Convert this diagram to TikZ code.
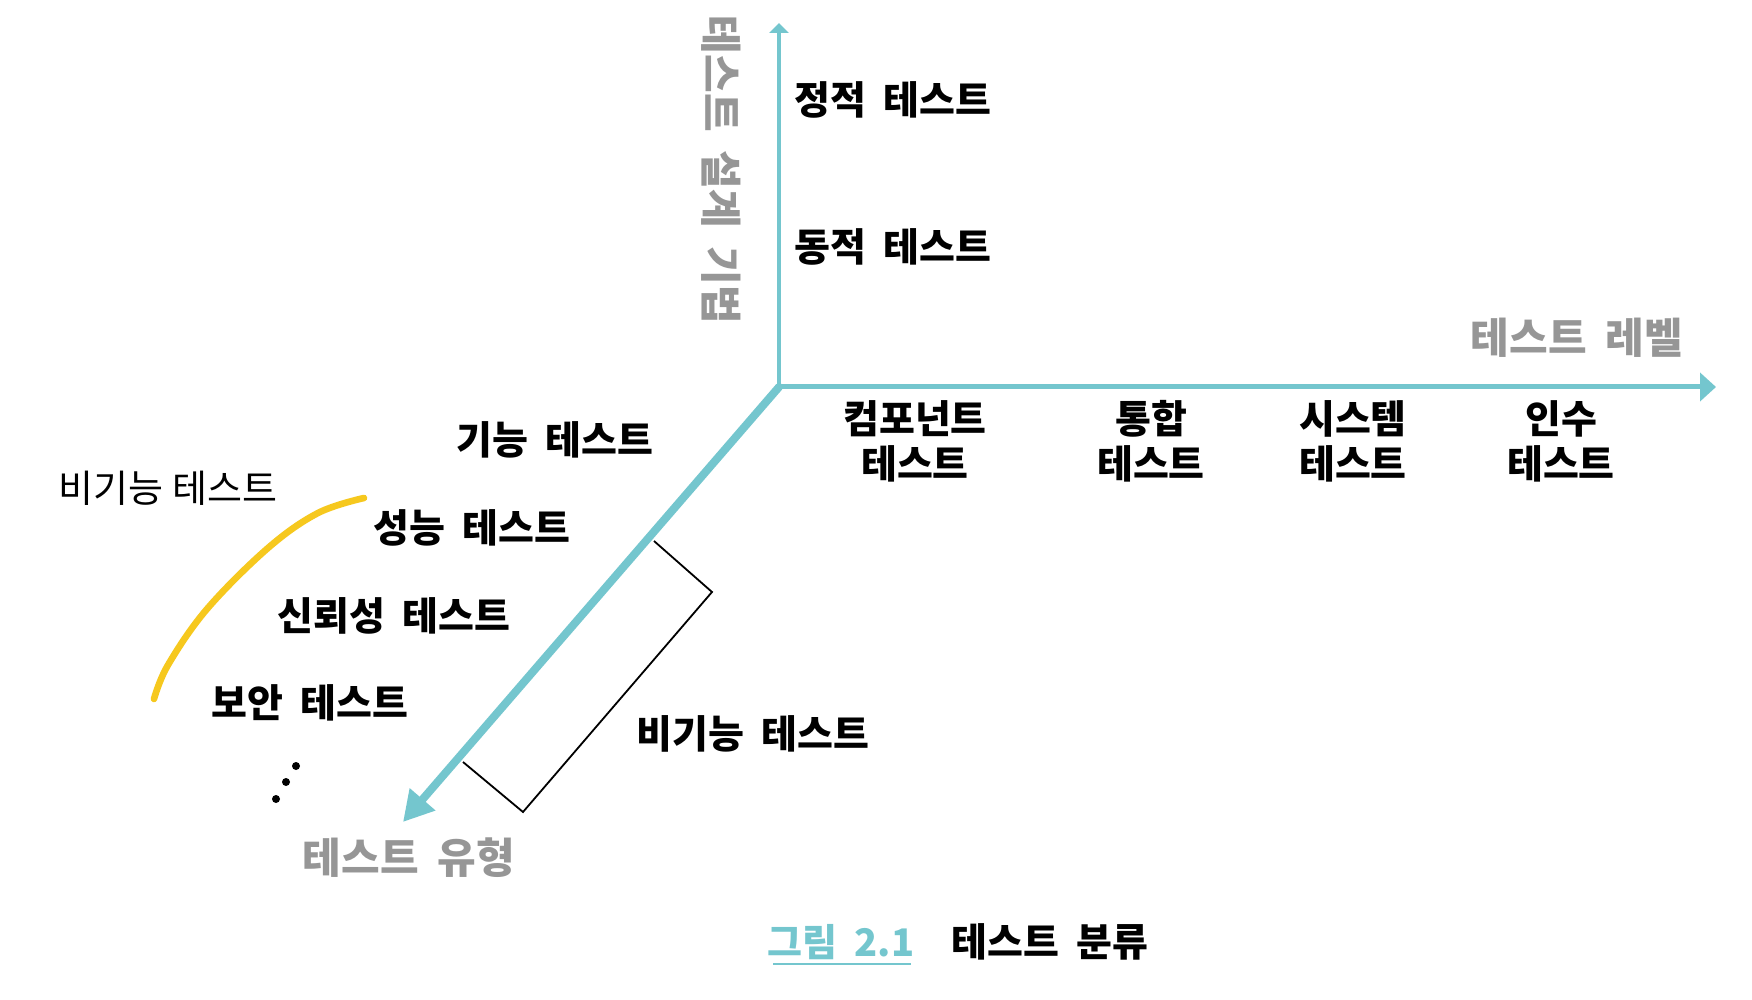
\documentclass[tikz,border=0pt]{standalone}
\usepackage{fontspec}
\setmainfont{Noto Sans CJK KR}
\usetikzlibrary{arrows.meta}
\definecolor{axisteal}{RGB}{116,198,206}
\definecolor{axisgray}{RGB}{150,150,150}
\definecolor{curveyellow}{RGB}{246,200,30}
\newcommand\wsp{\hspace{0.45em}}
\begin{document}
\begin{tikzpicture}[x=0.5pt,y=-0.5pt,
  lbl/.style={font=\fontsize{19.5}{22.5}\selectfont\bfseries, inner sep=0pt, text=black, align=center},
  lite/.style={font=\fontsize{19}{22.5}\selectfont, inner sep=0pt, text=black},
  axl/.style={font=\fontsize{21}{24}\selectfont\bfseries, text=axisgray, inner sep=0pt},
  axisline/.style={draw=axisteal}]
\useasboundingbox[fill=white] (0,0) rectangle (1752,1000);

% axes
\coordinate (O) at (779,387);
\coordinate (vtip) at (779,23);
\coordinate (htip) at (1716,387);
\coordinate (dtip) at (403,822);
\draw[axisline, line width=2pt, -{Triangle[length=5pt,width=9.5pt]}] (O) -- (vtip);
\draw[axisline, line width=2.5pt, -{Triangle[length=8pt,width=14pt]}] (O) -- (htip);
\draw[axisline, line width=4pt, line cap=round, -{Triangle[length=15pt,width=16pt]}] (O) -- (dtip);

% axis labels
\node[axl, rotate=-90] (vlabel) at (721,170) {테스트\wsp 설계\wsp 기법};
\node[axl] (hlabel) at (1577,338) {테스트\wsp 레벨};
\node[axl] (dlabel) at (409,858) {테스트\wsp 유형};

% vertical axis items
\node[lbl, anchor=west] (static) at (794,100) {정적\wsp 테스트};
\node[lbl, anchor=west] (dynamic) at (794,247) {동적\wsp 테스트};

% horizontal axis items
\node[lbl] (comp) at (915,441) {컴포넌트\\테스트};
\node[lbl] (integ) at (1151,441) {통합\\테스트};
\node[lbl] (sys) at (1353,441) {시스템\\테스트};
\node[lbl] (accept) at (1561,441) {인수\\테스트};

% diagonal axis items
\node[lbl] (func) at (555,440) {기능\wsp 테스트};
\node[lite] (nonfuncL) at (168,488) {비기능 테스트};
\node[lbl] (perf) at (472,528) {성능\wsp 테스트};
\node[lbl] (rel) at (394,616) {신뢰성\wsp 테스트};
\node[lbl] (sec) at (310,703) {보안\wsp 테스트};
\node[lbl] (nonfunc) at (753,734) {비기능\wsp 테스트};

% dots
\fill (296,766) circle (4);
\fill (286,782) circle (4);
\fill (276,799) circle (4);

% bracket
\coordinate (b1) at (654,541);
\coordinate (b2) at (712,592);
\coordinate (b3) at (523,812);
\coordinate (b4) at (463,762);
\draw[black, line width=0.9pt] (b1) -- (b2) -- (b3) -- (b4);

% yellow curve
\draw[curveyellow, line width=3.3pt, line cap=round]
  plot[smooth, tension=0.6] coordinates {(364,498) (318,513) (268,548) (207,609) (168,665) (154,699)};

% caption
\node[font=\fontsize{19}{22}\selectfont\bfseries, text=axisteal, inner sep=0pt] (capnum) at (841,942) {그림\wsp 2.1};
\draw[axisteal, line width=0.7pt] (773,964) -- (911,964);
\node[lbl] (captext) at (1050,942) {테스트\wsp 분류};
\end{tikzpicture}
\end{document}
